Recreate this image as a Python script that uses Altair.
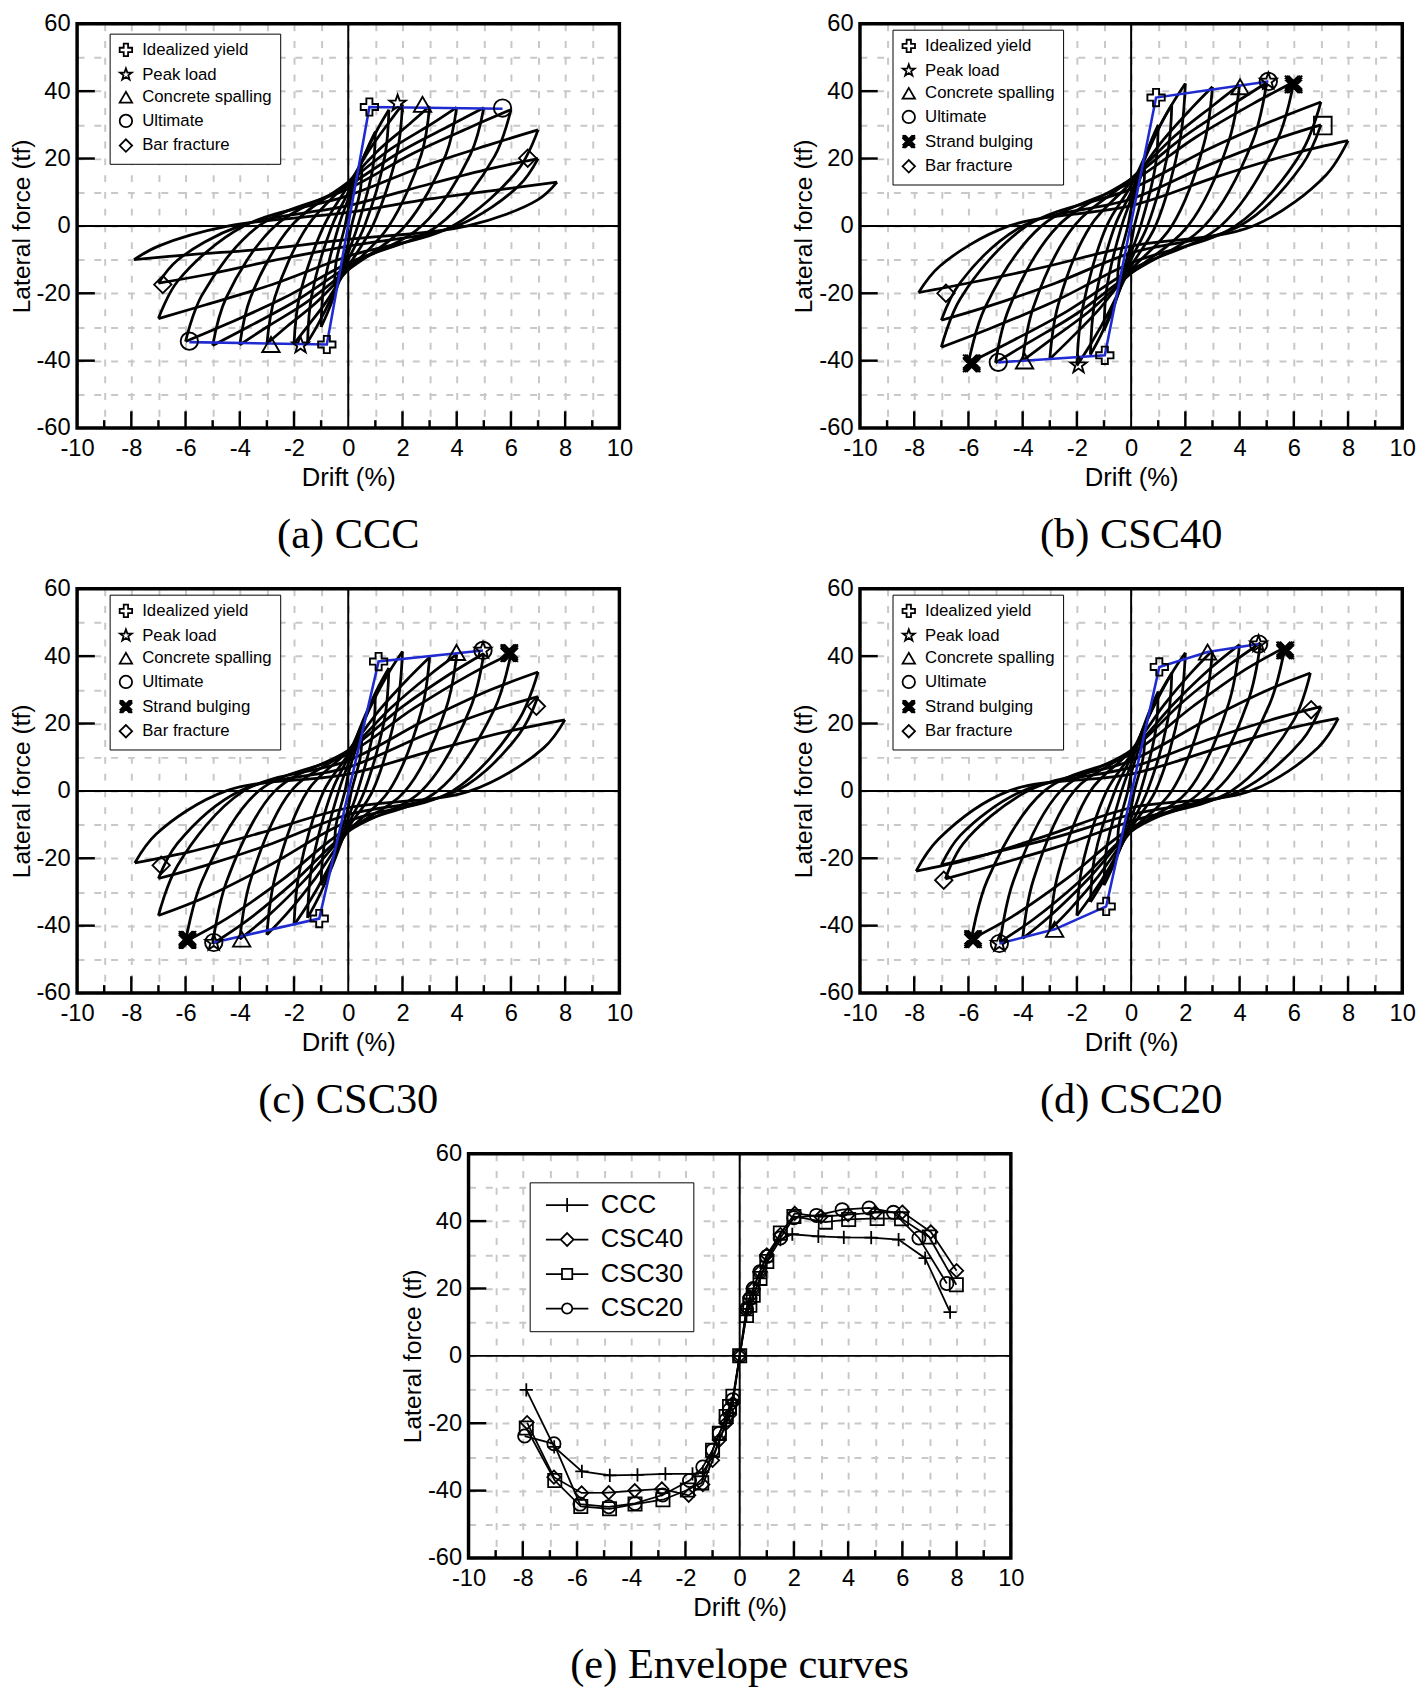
import altair as alt
import pandas as pd

FONT = "Liberation Sans"
SERIF = "Liberation Serif"
GRID_COLOR = "#c8c8c8"
BLUE = "#1f2bd1"
W, H = 550, 410

# ---------------- axis values ----------------
X_GRID = [-10, -9, -8, -7, -6, -5, -4, -3, -2, -1, 0, 1, 2, 3, 4, 5, 6, 7, 8, 9, 10]
Y_GRID = [-60, -50, -40, -30, -20, -10, 0, 10, 20, 30, 40, 50, 60]
X_MAJOR = [-8, -6, -4, -2, 2, 4, 6, 8]
X_MINOR = [-9, -7, -5, -3, -1, 1, 3, 5, 7, 9]
Y_MAJOR = [-40, -20, 20, 40]

# ---------------- hysteresis loops (drift %, force tf) ----------------
CCC_LOOPS = [
    [(-0.5, -18), (-0.45, -10.8), (-0.12, 0), (0, 5), (0.2, 10.9), (0.38, 15.3), (0.5, 18), (0.45, 10.8), (0.12, 0), (0, -5), (-0.2, -10.9), (-0.38, -15.3), (-0.5, -18)],
    [(-1, -30), (-0.9, -18), (-0.35, 0), (0, 8), (0.4, 17), (0.75, 23.8), (1, 28), (0.9, 16.8), (0.35, 0), (0, -8), (-0.4, -17.9), (-0.75, -25.5), (-1, -30)],
    [(-1.5, -34.5), (-1.35, -20.7), (-0.6, 0), (0, 10), (0.6, 21), (1.12, 29.3), (1.5, 34.5), (1.35, 20.7), (0.6, 0), (0, -10), (-0.6, -21), (-1.12, -29.3), (-1.5, -34.5)],
    [(-2, -35), (-1.8, -21), (-0.9, 0), (0, 12), (0.8, 22.8), (1.5, 30.7), (2, 36.1), (1.8, 21.7), (0.9, 0), (0, -12), (-0.8, -22.4), (-1.5, -29.8), (-2, -35)],
    [(-3, -35), (-2.7, -21), (-1.5, 0), (0, 13), (1.2, 23.1), (2.25, 30.2), (3, 35.5), (2.7, 21.3), (1.5, 0), (0, -13), (-1.2, -22.9), (-2.25, -29.8), (-3, -35)],
    [(-4, -35.3), (-3.6, -21.2), (-2.1, 0), (0, 13), (1.6, 23), (3, 29.9), (4, 35.2), (3.6, 21.1), (2.1, 0), (0, -13), (-1.6, -23), (-3, -30), (-4, -35.3)],
    [(-5, -35.5), (-4.5, -21.3), (-2.7, 0), (0, 12), (2, 22.4), (3.75, 29.8), (5, 35.1), (4.5, 21.1), (2.7, 0), (0, -12), (-2, -22.6), (-3.75, -30.2), (-5, -35.5)],
    [(-6, -34.3), (-5.4, -20.6), (-3.3, 0), (0, 11), (2.4, 21.6), (4.5, 29.3), (6, 34.5), (5.4, 20.7), (3.3, 0), (0, -11), (-2.4, -21.5), (-4.5, -29.2), (-6, -34.3)],
    [(-7, -27.5), (-6.3, -16.5), (-3.85, 0), (0, 9), (2.8, 17.8), (5.25, 24.2), (7, 28.5), (6.3, 17.1), (3.85, 0), (0, -9), (-2.8, -17.4), (-5.25, -23.4), (-7, -27.5)],
    [(-7, -17), (-6.3, -10.2), (-4, 0), (0, 6), (2.8, 12), (5.25, 17), (7, 20), (6.3, 12), (4, 0), (0, -6), (-2.8, -10.3), (-5.25, -14.5), (-7, -17)],
    [(-7.9, -10), (-7, -6), (-4.4, 0), (0, 4), (3, 8), (5.8, 11), (7.7, 13), (7, 7.8), (4.4, 0), (0, -4), (-3, -6.8), (-5.8, -8.5), (-7.9, -10)],
]

CSC40_LOOPS = [
    [(-0.5, -18), (-0.45, -10.8), (-0.12, 0), (0, 5), (0.2, 10.9), (0.38, 15.3), (0.5, 18), (0.45, 10.8), (0.12, 0), (0, -5), (-0.2, -10.9), (-0.38, -15.3), (-0.5, -18)],
    [(-1, -31), (-0.9, -18.6), (-0.35, 0), (0, 8), (0.4, 17.9), (0.75, 25.5), (1, 30), (0.9, 18), (0.35, 0), (0, -8), (-0.4, -18.4), (-0.75, -26.4), (-1, -31)],
    [(-1.5, -38.2), (-1.35, -22.9), (-0.6, 0), (0, 10), (0.6, 21.7), (1.12, 30.6), (1.5, 36), (1.35, 21.6), (0.6, 0), (0, -10), (-0.6, -22.7), (-1.12, -32.5), (-1.5, -38.2)],
    [(-2, -41.4), (-1.8, -24.8), (-0.9, 0), (0, 12), (0.8, 25.6), (1.5, 36), (2, 42.3), (1.8, 25.4), (0.9, 0), (0, -12), (-0.8, -25.2), (-1.5, -35.2), (-2, -41.4)],
    [(-3, -39.5), (-2.7, -23.7), (-1.5, 0), (0, 13), (1.2, 25.7), (2.25, 35.1), (3, 41.3), (2.7, 24.8), (1.5, 0), (0, -13), (-1.2, -24.9), (-2.25, -33.6), (-3, -39.5)],
    [(-4, -40), (-3.6, -24), (-2.1, 0), (0, 14), (1.6, 26.6), (3, 35.6), (4, 41.9), (3.6, 25.1), (2.1, 0), (0, -14), (-1.6, -25.7), (-3, -34), (-4, -40)],
    [(-5, -40.6), (-4.5, -24.4), (-2.7, 0), (0, 14), (2, 26.8), (3.75, 36.1), (5, 42.5), (4.5, 25.5), (2.7, 0), (0, -14), (-2, -26), (-3.75, -34.5), (-5, -40.6)],
    [(-6, -40.7), (-5.4, -24.4), (-3.3, 0), (0, 13), (2.4, 26.4), (4.5, 36.3), (6, 42.7), (5.4, 25.6), (3.3, 0), (0, -13), (-2.4, -25.5), (-4.5, -34.6), (-6, -40.7)],
    [(-7, -36), (-6.3, -21.6), (-3.85, 0), (0, 11), (2.8, 22.6), (5.25, 31.3), (7, 36.8), (6.3, 22.1), (3.85, 0), (0, -11), (-2.8, -22.3), (-5.25, -30.6), (-7, -36)],
    [(-7, -28), (-6.3, -16.8), (-4, 0), (0, 8), (2.8, 17.9), (5.25, 25.5), (7, 30), (6.3, 18), (4, 0), (0, -8), (-2.8, -17), (-5.25, -23.8), (-7, -28)],
    [(-7.84, -19.8), (-7.05, -11.9), (-4.5, 0), (0, 6), (3.2, 14.7), (6, 21.5), (8, 25.3), (7.2, 15.2), (4.5, 0), (0, -6), (-3.2, -12.2), (-5.9, -16.8), (-7.84, -19.8)],
]

CSC30_LOOPS = [
    [(-0.5, -17), (-0.45, -10.2), (-0.12, 0), (0, 5), (0.2, 10.4), (0.38, 14.5), (0.5, 17), (0.45, 10.2), (0.12, 0), (0, -5), (-0.2, -10.4), (-0.38, -14.5), (-0.5, -17)],
    [(-1, -28), (-0.9, -16.8), (-0.35, 0), (0, 8), (0.4, 17), (0.75, 23.8), (1, 28), (0.9, 16.8), (0.35, 0), (0, -8), (-0.4, -17), (-0.75, -23.8), (-1, -28)],
    [(-1.5, -37.7), (-1.35, -22.6), (-0.6, 0), (0, 10), (0.6, 21.9), (1.12, 31), (1.5, 36.5), (1.35, 21.9), (0.6, 0), (0, -10), (-0.6, -22.5), (-1.12, -32), (-1.5, -37.7)],
    [(-2, -39.8), (-1.8, -23.9), (-0.9, 0), (0, 11), (0.8, 24.7), (1.5, 35.2), (2, 41.4), (1.8, 24.8), (0.9, 0), (0, -11), (-0.8, -24), (-1.5, -33.8), (-2, -39.8)],
    [(-3, -42.7), (-2.7, -25.6), (-1.5, 0), (0, 12), (1.2, 24.5), (2.25, 33.7), (3, 39.7), (2.7, 23.8), (1.5, 0), (0, -12), (-1.2, -25.8), (-2.25, -36.3), (-3, -42.7)],
    [(-4, -44), (-3.6, -26.4), (-2.1, 0), (0, 12), (1.6, 24.8), (3, 34.4), (4, 40.5), (3.6, 24.3), (2.1, 0), (0, -12), (-1.6, -26.4), (-3, -37.4), (-4, -44)],
    [(-5, -45.4), (-4.5, -27.2), (-2.7, 0), (0, 12), (2, 25), (3.75, 34.7), (5, 40.8), (4.5, 24.5), (2.7, 0), (0, -12), (-2, -27), (-3.75, -38.6), (-5, -45.4)],
    [(-6, -44.7), (-5.4, -26.8), (-3.3, 0), (0, 11), (2.4, 24.4), (4.5, 34.6), (6, 40.7), (5.4, 24.4), (3.3, 0), (0, -11), (-2.4, -26.2), (-4.5, -38), (-6, -44.7)],
    [(-7, -37), (-6.3, -22.2), (-3.85, 0), (0, 9), (2.8, 20.8), (5.25, 30), (7, 35.3), (6.3, 21.2), (3.85, 0), (0, -9), (-2.8, -21.6), (-5.25, -31.5), (-7, -37)],
    [(-7, -26), (-6.3, -15.6), (-4, 0), (0, 7), (2.8, 16.5), (5.25, 23.8), (7, 28), (6.3, 16.8), (4, 0), (0, -7), (-2.8, -15.6), (-5.25, -22.1), (-7, -26)],
    [(-7.87, -21.4), (-7.08, -12.8), (-4.5, 0), (0, 5), (3.2, 12.2), (6, 17.9), (7.99, 21.1), (7.2, 12.7), (4.5, 0), (0, -5), (-3.2, -12.4), (-5.9, -18.2), (-7.87, -21.4)],
]

CSC20_LOOPS = [
    [(-0.5, -17), (-0.45, -10.2), (-0.12, 0), (0, 5), (0.2, 10.4), (0.38, 14.5), (0.5, 17), (0.45, 10.2), (0.12, 0), (0, -5), (-0.2, -10.4), (-0.38, -14.5), (-0.5, -17)],
    [(-1, -28), (-0.9, -16.8), (-0.35, 0), (0, 8), (0.4, 17.7), (0.75, 25.1), (1, 29.5), (0.9, 17.7), (0.35, 0), (0, -8), (-0.4, -17), (-0.75, -23.8), (-1, -28)],
    [(-1.5, -33), (-1.35, -19.8), (-0.6, 0), (0, 10), (0.6, 21.3), (1.12, 29.8), (1.5, 35), (1.35, 21), (0.6, 0), (0, -10), (-0.6, -20.4), (-1.12, -28), (-1.5, -33)],
    [(-2, -37), (-1.8, -22.2), (-0.9, 0), (0, 11), (0.8, 24.5), (1.5, 34.9), (2, 41), (1.8, 24.6), (0.9, 0), (0, -11), (-0.8, -22.7), (-1.5, -31.5), (-2, -37)],
    [(-3, -41.3), (-2.7, -24.8), (-1.5, 0), (0, 12), (1.2, 25.4), (2.25, 35.4), (3, 41.7), (2.7, 25), (1.5, 0), (0, -12), (-1.2, -25.2), (-2.25, -35.1), (-3, -41.3)],
    [(-4, -43.8), (-3.6, -26.3), (-2.1, 0), (0, 12), (1.6, 26.1), (3, 36.9), (4, 43.4), (3.6, 26), (2.1, 0), (0, -12), (-1.6, -26.3), (-3, -37.2), (-4, -43.8)],
    [(-4.83, -44.8), (-4.35, -26.9), (-2.6, 0), (0, 12), (1.9, 26.4), (3.6, 37.3), (4.77, 43.9), (4.3, 26.3), (2.6, 0), (0, -12), (-1.9, -26.8), (-3.6, -38.1), (-4.83, -44.8)],
    [(-5.89, -44), (-5.3, -26.4), (-3.2, 0), (0, 11), (2.3, 25.2), (4.25, 36.2), (5.67, 42.6), (5.1, 25.6), (3.1, 0), (0, -11), (-2.35, -25.9), (-4.4, -37.4), (-5.89, -44)],
    [(-6.85, -26.1), (-6.2, -15.7), (-3.8, 0), (0, 9), (2.7, 20.7), (5, 29.8), (6.61, 35), (6, 21), (3.7, 0), (0, -9), (-2.75, -16.7), (-5.1, -22.2), (-6.85, -26.1)],
    [(-7, -22), (-6.3, -13.2), (-4, 0), (0, 7), (2.8, 15.1), (5.25, 21.3), (7, 25), (6.3, 15), (4, 0), (0, -7), (-2.8, -13.8), (-5.25, -18.7), (-7, -22)],
    [(-7.93, -23.8), (-7.1, -14.3), (-4.5, 0), (0, 5), (3.1, 12.4), (5.7, 18.3), (7.64, 21.5), (6.9, 12.9), (4.4, 0), (0, -5), (-3.2, -13.5), (-5.9, -20.2), (-7.93, -23.8)],
]

# ---------------- idealized (blue) curves ----------------
CCC_BLUE_X = [-5.86, -0.79, 0.78, 5.69]
CCC_BLUE_Y = [-34.5, -35.2, 35.3, 34.8]
CSC40_BLUE_X = [-4.9, -0.97, 0.92, 5.06]
CSC40_BLUE_Y = [-40.5, -38.4, 38.1, 42.9]
CSC30_BLUE_X = [-4.96, -1.07, 1.12, 4.97]
CSC30_BLUE_Y = [-45.0, -37.9, 38.4, 41.7]
CSC20_BLUE_X = [-4.86, -2.82, -0.92, 1.04, 2.82, 4.7]
CSC20_BLUE_Y = [-45.3, -41.1, -34.3, 36.8, 41.2, 43.6]

# ---------------- event markers ----------------
EV5 = ["Idealized yield", "Peak load", "Concrete spalling", "Ultimate", "Bar fracture"]
EV6 = ["Idealized yield", "Peak load", "Concrete spalling", "Ultimate", "Strand bulging", "Bar fracture"]

CCC_EV = ["Idealized yield", "Idealized yield", "Peak load", "Peak load", "Concrete spalling", "Concrete spalling",
          "Ultimate", "Ultimate", "Bar fracture", "Bar fracture"]
CCC_MX = [0.78, -0.79, 1.82, -1.76, 2.74, -2.85, 5.69, -5.86, 6.62, -6.84]
CCC_MY = [35.3, -35.2, 36.4, -35.4, 36.1, -35.2, 35.0, -34.2, 20.1, -17.4]

CSC40_EV = ["Idealized yield", "Idealized yield", "Peak load", "Peak load", "Concrete spalling", "Concrete spalling",
            "Ultimate", "Ultimate", "Strand bulging", "Strand bulging", "Bar fracture"]
CSC40_MX = [0.92, -0.97, 5.06, -1.94, 4.02, -3.93, 5.06, -4.9, 5.99, -5.88, -6.83]
CSC40_MY = [38.1, -38.4, 42.9, -41.3, 41.3, -40.1, 42.9, -40.5, 42.0, -40.8, -20.0]
CSC40_SQ_X = [7.07]
CSC40_SQ_Y = [29.8]

CSC30_EV = ["Idealized yield", "Idealized yield", "Peak load", "Peak load", "Concrete spalling", "Concrete spalling",
            "Ultimate", "Ultimate", "Strand bulging", "Strand bulging", "Bar fracture", "Bar fracture"]
CSC30_MX = [1.12, -1.07, 4.97, -4.96, 3.99, -3.93, 4.97, -4.96, 5.94, -5.93, 6.94, -6.9]
CSC30_MY = [38.4, -37.9, 41.7, -45.0, 41.1, -44.0, 41.7, -45.0, 40.9, -44.2, 25.1, -22.1]

CSC20_EV = ["Idealized yield", "Idealized yield", "Peak load", "Peak load", "Concrete spalling", "Concrete spalling",
            "Ultimate", "Ultimate", "Strand bulging", "Strand bulging", "Bar fracture", "Bar fracture"]
CSC20_MX = [1.04, -0.92, 4.7, -4.86, 2.82, -2.82, 4.7, -4.86, 5.68, -5.83, 6.64, -6.91]
CSC20_MY = [36.8, -34.3, 43.6, -45.3, 41.2, -41.1, 43.6, -45.3, 41.7, -44.0, 24.1, -26.5]

# ---------------- envelope curves ----------------
SERIES = ["CCC", "CSC40", "CSC30", "CSC20"]
CCC_EX = [-7.87, -6.84, -5.82, -4.79, -3.77, -2.74, -1.74, -1.36, -1.0, -0.75, -0.5, -0.375, -0.25, 0,
          0.25, 0.375, 0.5, 0.75, 1.0, 1.5, 1.94, 2.9, 3.84, 4.85, 5.86, 6.84, 7.76]
CCC_EY = [-10.1, -27, -34.3, -35.5, -35.3, -35, -35, -34.5, -30, -25, -20, -17, -13, 0,
          12, 15.5, 18, 23, 28, 34.5, 36.1, 35.5, 35.2, 35.1, 34.5, 29, 13]
CSC40_EX = [-7.84, -6.85, -5.83, -4.83, -3.87, -2.87, -1.88, -1.36, -1.0, -0.75, -0.5, -0.375, -0.25, 0,
            0.25, 0.375, 0.5, 0.75, 1.0, 1.5, 2.03, 3.0, 4.0, 5.0, 6.0, 7.05, 8.0]
CSC40_EY = [-19.8, -36, -40.7, -40.6, -40, -39.5, -41.4, -38.2, -31, -25, -20, -17.5, -14, 0,
            14, 17.5, 20, 25, 30, 36, 42.3, 41.3, 41.9, 42.5, 42.7, 36.8, 25.3]
CSC30_EX = [-7.87, -6.82, -5.86, -4.8, -3.86, -2.83, -1.93, -1.4, -1.0, -0.75, -0.5, -0.375, -0.25, 0,
            0.25, 0.375, 0.5, 0.75, 1.0, 1.5, 2.0, 3.16, 4.02, 5.07, 5.97, 6.99, 7.99]
CSC30_EY = [-21.4, -37, -44.7, -45.4, -44, -42.7, -39.8, -37.7, -28, -23, -18, -15, -12, 0,
            12, 15, 18, 23, 28, 36.5, 41.4, 39.7, 40.5, 40.8, 40.7, 35.3, 21.1]
CSC20_EX = [-7.93, -6.85, -5.89, -4.83, -3.86, -2.84, -1.85, -1.36, -1.0, -0.75, -0.5, -0.375, -0.25, 0,
            0.25, 0.375, 0.5, 0.75, 1.0, 1.5, 2.0, 2.83, 3.78, 4.77, 5.67, 6.61, 7.64]
CSC20_EY = [-23.8, -26.1, -44, -44.8, -43.8, -41.3, -37, -33, -28, -23, -19, -16, -13, 0,
            14, 17, 20, 25, 29.5, 35, 41, 41.7, 43.4, 43.9, 42.6, 35, 21.5]

# ---------------- symbol shapes ----------------
PLUS_BOLD = "M-0.35,-1L0.35,-1L0.35,-0.35L1,-0.35L1,0.35L0.35,0.35L0.35,1L-0.35,1L-0.35,0.35L-1,0.35L-1,-0.35L-0.35,-0.35Z"
STAR = "M0,-1L0.235,-0.324L0.951,-0.309L0.38,0.124L0.588,0.809L0,0.4L-0.588,0.809L-0.38,0.124L-0.951,-0.309L-0.235,-0.324Z"
XBOLD = ("M-1,-1L1,1M-1,1L1,-1M-0.8,-1L1,0.8M-1,-0.8L0.8,1M-1,0.8L0.8,-1M-0.8,1L1,-0.8"
         "M-0.6,-1L1,0.6M-1,-0.6L0.6,1M-1,0.6L0.6,-1M-0.6,1L1,-0.6")
EV_SHAPES = {"Idealized yield": PLUS_BOLD, "Peak load": STAR, "Concrete spalling": "triangle-up",
             "Ultimate": "circle", "Strand bulging": XBOLD, "Bar fracture": "diamond"}
ENV_SHAPES = ["M-1,0L1,0M0,-1L0,1", "diamond", "square", "circle"]
ENV_LEG_SHAPES = [
    "M-1,0L5.6,0M2.3,-1.1L2.3,1.1",
    "M-1,0L1.3,0M3.3,0L5.6,0M2.3,-1L3.3,0L2.3,1L1.3,0Z",
    "M-1,0L1.5,0M3.1,0L5.6,0M1.5,-0.8L3.1,-0.8L3.1,0.8L1.5,0.8Z",
    "M-1,0L1.5,0M3.1,0L5.6,0M3.1,0A0.8,0.8,0,1,1,1.5,0A0.8,0.8,0,1,1,3.1,0Z",
]

# ---------------- shared encodings ----------------
AX_COMMON = dict(grid=True, gridDash=[7, 10], gridColor=GRID_COLOR, gridWidth=2, ticks=False, domain=False,
                 labelFont=FONT, labelFontSize=24, labelColor="black", labelFlush=False, labelOverlap=False,
                 titleFont=FONT, titleFontWeight="normal", titleColor="black")
XAX = alt.Axis(values=X_GRID, labelExpr="datum.value % 2 == 0 ? '' + datum.value : ''",
               labelPadding=9, title="Drift (%)", titlePadding=4, titleFontSize=26, **AX_COMMON)
YAX = alt.Axis(values=Y_GRID, labelExpr="datum.value % 20 == 0 ? '' + datum.value : ''",
               labelPadding=7, title="Lateral force (tf)", titlePadding=2, titleFontSize=25, **AX_COMMON)
XS = alt.Scale(domain=[-10, 10], nice=False, zero=False)
YS = alt.Scale(domain=[-60, 60], nice=False, zero=False)
X_ENC = alt.X("x:Q", scale=XS, axis=XAX)
Y_ENC = alt.Y("y:Q", scale=YS, axis=YAX)


def frame_layers():
    zx = alt.Chart(pd.DataFrame({"x": [0]})).mark_rule(color="black", strokeWidth=2).encode(x=X_ENC)
    zy = alt.Chart(pd.DataFrame({"y": [0]})).mark_rule(color="black", strokeWidth=2).encode(y=Y_ENC)
    return [zx, zy]


def tick_layers():
    tmaj = alt.Chart(pd.DataFrame({"x": X_MAJOR})).mark_rule(color="black", strokeWidth=2.5).encode(
        x=X_ENC, y=alt.value(H), y2=alt.value(H - 17))
    tmin = alt.Chart(pd.DataFrame({"x": X_MINOR})).mark_rule(color="black", strokeWidth=2.5).encode(
        x=X_ENC, y=alt.value(H), y2=alt.value(H - 8))
    tl = alt.Chart(pd.DataFrame({"y": Y_MAJOR})).mark_rule(color="black", strokeWidth=2.5).encode(
        y=Y_ENC, x=alt.value(0), x2=alt.value(18))
    box = alt.Chart(pd.DataFrame({"k": [0]})).mark_rect(fillOpacity=0, stroke="black", strokeWidth=3.5).encode(
        x=alt.value(0), x2=alt.value(W), y=alt.value(0), y2=alt.value(H))
    return [tmaj, tmin, tl, box]


def loops_frame(loops):
    rows = []
    for i, lp in enumerate(loops):
        for j, (x, y) in enumerate(lp):
            if j <= 6:
                rows.append({"seg": f"{i}u", "o": j, "x": x, "y": y})
            if j >= 6:
                rows.append({"seg": f"{i}l", "o": j, "x": x, "y": y})
    return pd.DataFrame(rows)


def caption(text):
    return alt.TitleParams(text=text, orient="bottom", font=SERIF, fontSize=43, fontWeight="normal",
                           color="black", offset=25, anchor="middle")


def hyst_panel(loops, bx, by, ev, mx, my, domain, cap, lx, ly, extra=None):
    ldf = loops_frame(loops)
    lines = alt.Chart(ldf).mark_line(color="black", strokeWidth=2.8, interpolate="catmull-rom").encode(
        x=X_ENC, y=Y_ENC, detail="seg:N", order="o:Q")
    blue = alt.Chart(pd.DataFrame({"x": bx, "y": by, "o": list(range(len(bx)))})).mark_line(
        color=BLUE, strokeWidth=2.6).encode(x=X_ENC, y=Y_ENC, order="o:Q")
    mk = alt.Chart(pd.DataFrame({"event": ev, "x": mx, "y": my})).mark_point(
        filled=False, color="black", strokeWidth=1.9, size=310, opacity=1).encode(
        x=X_ENC, y=Y_ENC,
        shape=alt.Shape("event:N", scale=alt.Scale(domain=domain, range=[EV_SHAPES[d] for d in domain]),
                        legend=alt.Legend(title=None, orient="none", legendX=lx, legendY=ly,
                                          labelFont=FONT, labelFontSize=17, labelColor="black",
                                          symbolSize=160, symbolStrokeWidth=1.8, symbolStrokeColor="black",
                                          strokeColor="black", fillColor="white", padding=8,
                                          rowPadding=4, labelOffset=8, labelLimit=300)))
    layers = frame_layers() + [lines, blue]
    if extra is not None:
        layers.append(extra)
    layers.append(mk)
    layers += tick_layers()
    return alt.layer(*layers).properties(width=W, height=H, title=caption(cap))


sq = alt.Chart(pd.DataFrame({"x": CSC40_SQ_X, "y": CSC40_SQ_Y})).mark_point(
    shape="square", filled=False, color="black", strokeWidth=1.9, size=320, opacity=1).encode(x=X_ENC, y=Y_ENC)

pa = hyst_panel(CCC_LOOPS, CCC_BLUE_X, CCC_BLUE_Y, CCC_EV, CCC_MX, CCC_MY, EV5, "(a) CCC", 33, 10)
pb = hyst_panel(CSC40_LOOPS, CSC40_BLUE_X, CSC40_BLUE_Y, CSC40_EV, CSC40_MX, CSC40_MY, EV6, "(b) CSC40", 33, 6, sq)
pc = hyst_panel(CSC30_LOOPS, CSC30_BLUE_X, CSC30_BLUE_Y, CSC30_EV, CSC30_MX, CSC30_MY, EV6, "(c) CSC30", 33, 6)
pd_ = hyst_panel(CSC20_LOOPS, CSC20_BLUE_X, CSC20_BLUE_Y, CSC20_EV, CSC20_MX, CSC20_MY, EV6, "(d) CSC20", 33, 6)

# envelope panel
env_rows = []
for name, xs, ys in [("CCC", CCC_EX, CCC_EY), ("CSC40", CSC40_EX, CSC40_EY),
                     ("CSC30", CSC30_EX, CSC30_EY), ("CSC20", CSC20_EX, CSC20_EY)]:
    for k, (x, y) in enumerate(zip(xs, ys)):
        env_rows.append({"series": name, "x": x, "y": y, "o": k})
env_df = pd.DataFrame(env_rows)

env_lines = alt.Chart(env_df).mark_line(color="black", strokeWidth=1.8).encode(
    x=X_ENC, y=Y_ENC, detail="series:N", order="o:Q")
env_pts = alt.Chart(env_df).mark_point(filled=False, color="black", strokeWidth=1.8, size=180, opacity=1).encode(
    x=X_ENC, y=Y_ENC,
    shape=alt.Shape("series:N", scale=alt.Scale(domain=SERIES, range=ENV_SHAPES), legend=None))
env_leg = alt.Chart(env_df).transform_filter("datum.x > 100").mark_point(
    filled=False, color="black", strokeWidth=1.8, opacity=1).encode(
    x=X_ENC, y=Y_ENC,
    shape=alt.Shape("series:N", scale=alt.Scale(domain=SERIES, range=ENV_LEG_SHAPES),
                    legend=alt.Legend(title=None, orient="none", legendX=62, legendY=29,
                                      labelFont=FONT, labelFontSize=26, labelColor="black",
                                      symbolSize=170, symbolStrokeWidth=1.8, symbolStrokeColor="black",
                                      strokeColor="black", fillColor="white", padding=10,
                                      rowPadding=9, labelOffset=36, labelLimit=300)))
pe = alt.layer(*(frame_layers() + [env_lines, env_pts, env_leg] + tick_layers())).resolve_scale(
    shape="independent").properties(width=W, height=H, title=caption("(e) Envelope curves"))

row1 = alt.hconcat(pa, pb, spacing=160).resolve_scale(shape="independent").resolve_legend(shape="independent")
row2 = alt.hconcat(pc, pd_, spacing=160).resolve_scale(shape="independent").resolve_legend(shape="independent")
chart = alt.vconcat(row1, row2, pe, spacing=18, center=True,
                    padding={"left": 0, "top": -9, "right": 0, "bottom": 0}).resolve_scale(
    shape="independent").resolve_legend(shape="independent").configure_view(
    stroke=None).configure(background="white")

chart.save("out.html", embed_options={"renderer": "svg", "actions": False})
